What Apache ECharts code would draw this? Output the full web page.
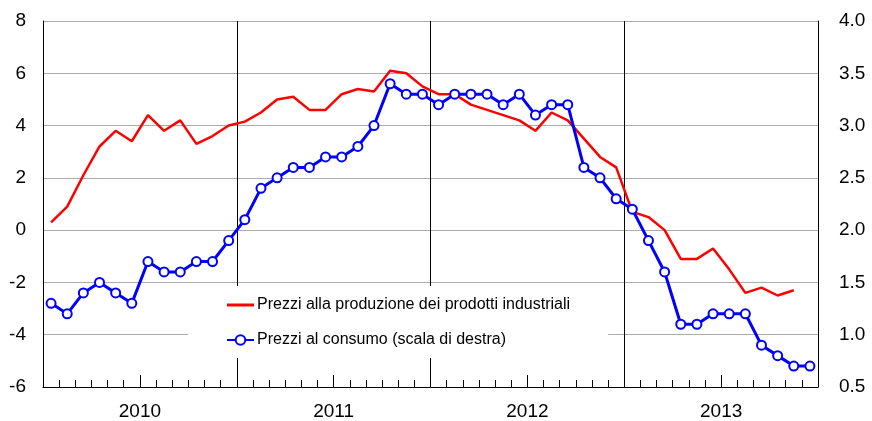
<!DOCTYPE html>
<html>
<head>
<meta charset="utf-8">
<script src="https://cdn.jsdelivr.net/npm/echarts@6/dist/echarts.min.js"></script>
<style>
  html, body { margin: 0; padding: 0; background: #fff; }
  #chart { width: 872px; height: 421px; }
</style>
</head>
<body>
<div id="chart"></div>
<script>
// mesi da gen 2010 a dic 2013
const months = [];
for (let y = 2010; y <= 2013; y++) {
  for (let m = 1; m <= 12; m++) months.push(y + '-' + (m < 10 ? '0' + m : m));
}
const halfYears = ['2010a', '2010b', '2011a', '2011b', '2012a', '2012b', '2013a', '2013b'];
const years = ['2010', '2011', '2012', '2013'];

// prezzi alla produzione (scala di sinistra)
const produzione = [
  0.3, 0.9, 2.1, 3.2, 3.8, 3.4, 4.4, 3.8, 4.2, 3.3, 3.6, 4.0,
  4.15, 4.5, 5.0, 5.1, 4.6, 4.6, 5.2, 5.4, 5.3, 6.1, 6.0, 5.5,
  5.2, 5.2, 4.8, 4.6, 4.4, 4.2, 3.8, 4.5, 4.2, 3.5, 2.8, 2.4,
  0.7, 0.5, 0.0, -1.1, -1.1, -0.7, -1.5, -2.4, -2.2, -2.5, -2.3
];
// prezzi al consumo (scala di destra)
const consumo = [
  1.3, 1.2, 1.4, 1.5, 1.4, 1.3, 1.7, 1.6, 1.6, 1.7, 1.7, 1.9,
  2.1, 2.4, 2.5, 2.6, 2.6, 2.7, 2.7, 2.8, 3.0, 3.4, 3.3, 3.3,
  3.2, 3.3, 3.3, 3.3, 3.2, 3.3, 3.1, 3.2, 3.2, 2.6, 2.5, 2.3,
  2.2, 1.9, 1.6, 1.1, 1.1, 1.2, 1.2, 1.2, 0.9, 0.8, 0.7, 0.7
];

const nomeProd = 'Prezzi alla produzione dei prodotti industriali';
const nomeCons = 'Prezzi al consumo (scala di destra)';
const font = 'Liberation Sans, Arial, sans-serif';
const myChart = echarts.init(document.getElementById('chart'));

const option = {
  animation: false,
  grid: { left: 43, right: 54, top: 21, bottom: 33, containLabel: false },
  legend: {
    orient: 'vertical',
    left: 188,
    top: 286,
    padding: [11, 38, 10, 38],
    backgroundColor: '#fff',
    itemWidth: 27,
    itemHeight: 12,
    itemGap: 19,
    selectedMode: false,
    textStyle: { fontFamily: font, fontSize: 16, color: '#000', padding: [0, 0, 0, -2] },
    data: [
      { name: nomeProd, icon: 'path://M0,0 H27 V3 H0 Z' },
      { name: nomeCons }
    ]
  },
  xAxis: [
    {
      type: 'category',
      data: months,
      position: 'bottom',
      boundaryGap: true,
      axisLine: { onZero: false, lineStyle: { color: '#000', width: 1 } },
      axisTick: { show: true, inside: true, length: 7, interval: 0, lineStyle: { color: '#000', width: 1 } },
      axisLabel: { show: false },
      splitLine: { show: false }
    },
    {
      type: 'category',
      data: halfYears,
      position: 'bottom',
      boundaryGap: true,
      axisLine: { show: false, onZero: false },
      axisTick: { show: true, inside: true, length: 12, interval: 0, lineStyle: { color: '#000', width: 1 } },
      axisLabel: { show: false },
      splitLine: { show: false }
    },
    {
      type: 'category',
      data: years,
      position: 'bottom',
      boundaryGap: true,
      axisLine: { show: false, onZero: false },
      axisTick: { show: false },
      axisLabel: { margin: 15, fontFamily: font, fontSize: 19, color: '#000' },
      splitLine: { show: true, interval: 0, lineStyle: { color: '#000', width: 1 } }
    }
  ],
  yAxis: [
    {
      type: 'value',
      min: -6, max: 8, interval: 2,
      axisLine: { show: true, lineStyle: { color: '#000' } },
      axisTick: { show: false },
      axisLabel: { margin: 17, fontFamily: font, fontSize: 19, color: '#000' },
      splitLine: { show: true, lineStyle: { color: '#ababab', width: 1 } }
    },
    {
      type: 'value',
      min: 0.5, max: 4, interval: 0.5,
      axisLine: { show: true, lineStyle: { color: '#000' } },
      axisTick: { show: false },
      axisLabel: {
        margin: 21, fontFamily: font, fontSize: 19, color: '#000',
        formatter: v => v.toFixed(1)
      },
      splitLine: { show: false }
    }
  ],
  series: [
    {
      name: nomeProd,
      type: 'line',
      xAxisIndex: 0,
      yAxisIndex: 0,
      data: produzione,
      symbol: 'none',
      color: '#ff0000',
      lineStyle: { color: '#ff0000', width: 2.5 }
    },
    {
      name: nomeCons,
      type: 'line',
      xAxisIndex: 0,
      yAxisIndex: 1,
      data: consumo,
      symbol: 'emptyCircle',
      symbolSize: 9,
      color: '#0000ff',
      itemStyle: { color: '#0000ff', borderWidth: 1.3 },
      lineStyle: { color: '#0000ff', width: 3 }
    }
  ]
};
myChart.setOption(option);
window.addEventListener('resize', function () {
  myChart.resize();
});
</script>
</body>
</html>
